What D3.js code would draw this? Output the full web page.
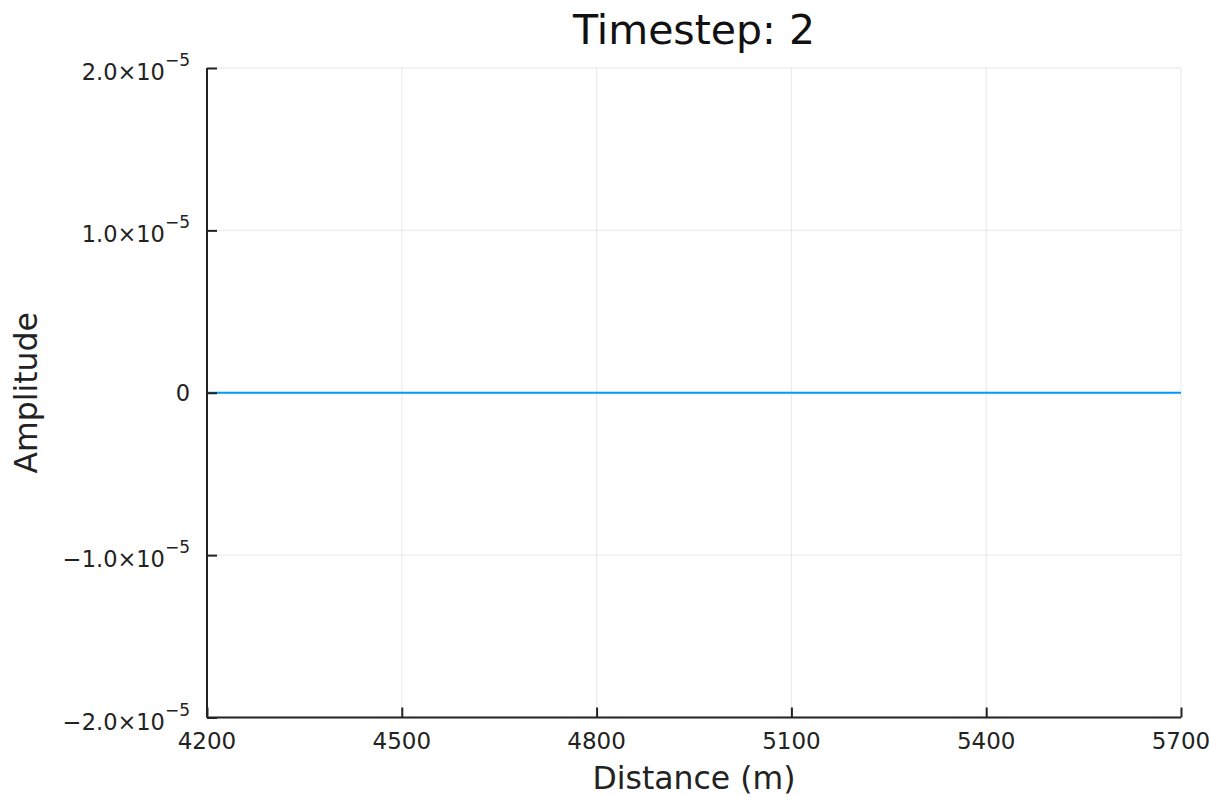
<!DOCTYPE html>
<html>
<head>
<meta charset="utf-8">
<script src="https://cdn.jsdelivr.net/npm/d3@7"></script>
<style>
  html, body { margin: 0; padding: 0; background: #fff; }
  svg { display: block; font-family: "DejaVu Sans", sans-serif; }
</style>
</head>
<body>
<svg id="chart" width="1209" height="797"></svg>
<script>
// ---- data ----
const titleText = "Timestep: 2";
const xLabel = "Distance (m)";
const yLabel = "Amplitude";
const distance = [4200, 4300, 4400, 4500, 4600, 4700, 4800, 4900, 5000, 5100, 5200, 5300, 5400, 5500, 5600, 5700];
const amplitude = [0, 0, 0, 0, 0, 0, 0, 0, 0, 0, 0, 0, 0, 0, 0, 0];
const xTicks = [4200, 4500, 4800, 5100, 5400, 5700];
const yTicks = [-2e-5, -1e-5, 0, 1e-5, 2e-5];
const yTickMantissa = ["−2.0", "−1.0", "0", "1.0", "2.0"];
const xDomain = [4200, 5700];
const yDomain = [-2e-5, 2e-5];

// ---- layout ----
const W = 1209, H = 797;
const m = { left: 207, right: 1181, top: 68, bottom: 717.5 };
const svg = d3.select("#chart");

const x = d3.scaleLinear().domain(xDomain).range([m.left, m.right]);
const y = d3.scaleLinear().domain(yDomain).range([m.bottom, m.top]);

// grid
const grid = svg.append("g");
grid.selectAll(".gx").data(xTicks).join("line")
  .attr("x1", d => x(d)).attr("x2", d => x(d))
  .attr("y1", m.top).attr("y2", m.bottom)
  .attr("stroke", "#000").attr("stroke-opacity", 0.07).attr("stroke-width", 1.3);
grid.selectAll(".gy").data(yTicks).join("line")
  .attr("y1", d => y(d)).attr("y2", d => y(d))
  .attr("x1", m.left).attr("x2", m.right)
  .attr("stroke", "#000").attr("stroke-opacity", 0.07).attr("stroke-width", 1.3);

// data line
const line = d3.line().x((d, i) => x(distance[i])).y(d => y(d));
svg.append("path").datum(amplitude)
  .attr("d", line)
  .attr("fill", "none")
  .attr("stroke", "#009AFA")
  .attr("stroke-width", 2.2);

// axes (inward ticks)
const xAxis = d3.axisBottom(x).tickValues(xTicks).tickSize(-10).tickFormat("");
const yAxis = d3.axisLeft(y).tickValues(yTicks).tickSize(-10).tickFormat("");
const gx = svg.append("g").attr("transform", `translate(0,${m.bottom})`).call(xAxis);
const gy = svg.append("g").attr("transform", `translate(${m.left},0)`).call(yAxis);
[gx, gy].forEach(g => {
  g.select(".domain").attr("stroke", "#222").attr("stroke-width", 2);
  g.selectAll(".tick line").attr("stroke", "#222").attr("stroke-width", 2);
});
gx.select(".domain").attr("d", `M${m.left},0H${m.right}`);
gy.select(".domain").attr("d", `M0,${m.bottom}V${m.top}`);

// x tick labels
svg.append("g").selectAll("text").data(xTicks).join("text")
  .attr("x", d => x(d)).attr("y", 749)
  .attr("text-anchor", "middle")
  .attr("font-size", 23).attr("fill", "#222")
  .text(d => d);

// y tick labels
const yl = svg.append("g").selectAll("text").data(yTicks).join("text")
  .attr("x", 190).attr("y", d => y(d) + (d === 0 ? 8 : 12))
  .attr("text-anchor", "end")
  .attr("font-size", 22.5).attr("fill", "#222");
yl.each(function(d, i) {
  const t = d3.select(this);
  if (d === 0) { t.text("0"); return; }
  t.append("tspan").text(yTickMantissa[i] + "×10");
  t.append("tspan").attr("dy", -14).attr("font-size", 17).text("−5");
});

// title
svg.append("text").attr("x", (m.left + m.right) / 2).attr("y", 44)
  .attr("text-anchor", "middle").attr("font-size", 41).attr("fill", "#111")
  .text(titleText);

// axis labels
svg.append("text").attr("x", (m.left + m.right) / 2).attr("y", 789)
  .attr("text-anchor", "middle").attr("font-size", 31.5).attr("fill", "#222")
  .text(xLabel);
svg.append("text")
  .attr("transform", `translate(37,${(m.top + m.bottom) / 2}) rotate(-90)`)
  .attr("text-anchor", "middle").attr("font-size", 31.5).attr("fill", "#222")
  .text(yLabel);
</script>
</body>
</html>
